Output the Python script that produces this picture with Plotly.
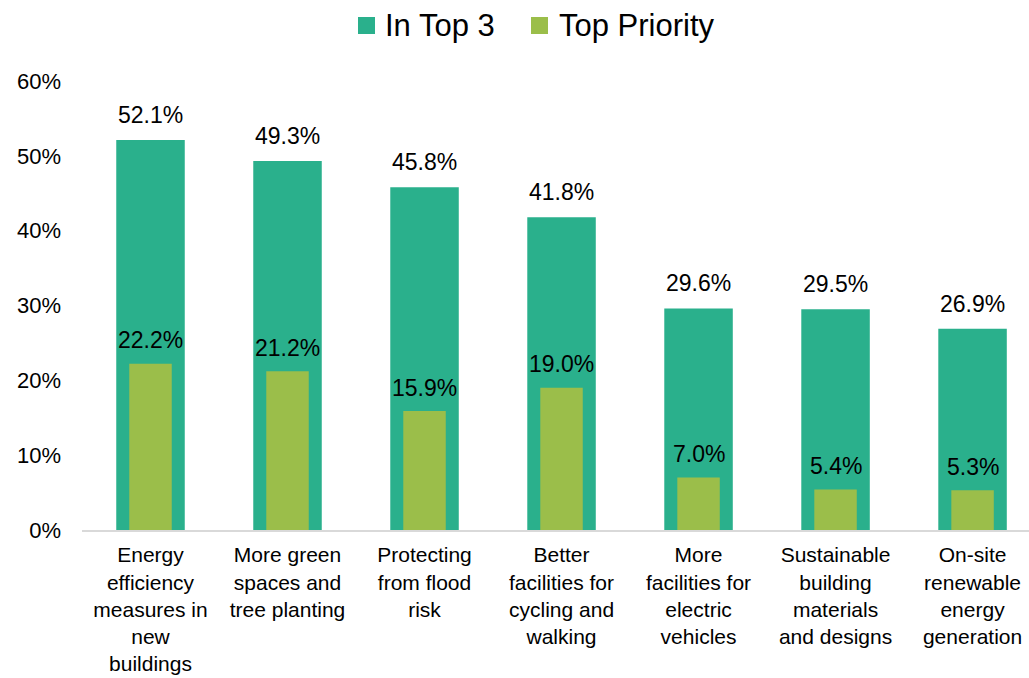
import plotly.graph_objects as go

categories = [
    "Energy<br>efficiency<br>measures in<br>new<br>buildings",
    "More green<br>spaces and<br>tree planting",
    "Protecting<br>from flood<br>risk",
    "Better<br>facilities for<br>cycling and<br>walking",
    "More<br>facilities for<br>electric<br>vehicles",
    "Sustainable<br>building<br>materials<br>and designs",
    "On-site<br>renewable<br>energy<br>generation",
]
in_top3 = [52.1, 49.3, 45.8, 41.8, 29.6, 29.5, 26.9]
top_priority = [22.2, 21.2, 15.9, 19.0, 7.0, 5.4, 5.3]
y_ticks = [0, 10, 20, 30, 40, 50, 60]
series_names = ["In Top 3", "Top Priority"]

TEAL = "rgb(42,176,140)"
LIME = "rgb(155,190,74)"
FONT = "Liberation Sans, Arial, sans-serif"

# plot-area geometry in pixels
W, H = 1029, 678
L, R, T, B = 82, 0, 81, 148
PW, PH = W - L - R, H - T - B


def px_x(x):
    return (x - L) / PW


def px_y(y):
    return 1 + (T - y) / PH


fig = go.Figure()
fig.add_trace(go.Bar(x=categories, y=in_top3, width=0.5, marker_color=TEAL,
                     marker_line_width=0, name=series_names[0], showlegend=False,
                     hoverinfo="skip"))
fig.add_trace(go.Bar(x=categories, y=top_priority, width=0.31, marker_color=LIME,
                     marker_line_width=0, name=series_names[1], showlegend=False,
                     hoverinfo="skip"))

# value labels above each bar
for cat, v in zip(categories, in_top3):
    fig.add_annotation(x=cat, y=v, text=f"{v:.1f}%", showarrow=False,
                       yanchor="middle", yshift=25, font=dict(size=23, color="black"))
for cat, v in zip(categories, top_priority):
    fig.add_annotation(x=cat, y=v, text=f"{v:.1f}%", showarrow=False,
                       yanchor="middle", yshift=23.5, font=dict(size=23, color="black"))

# legend: colour swatches and series names across the top
legend_items = [(series_names[0], TEAL, 358, 375, 383), (series_names[1], LIME, 531, 548, 557)]
for name, color, sx0, sx1, tx in legend_items:
    fig.add_shape(type="rect", xref="paper", yref="paper",
                  x0=px_x(sx0), x1=px_x(sx1), y0=px_y(34), y1=px_y(17),
                  fillcolor=color, line_width=0)
    fig.add_annotation(xref="paper", yref="paper", x=px_x(tx), y=px_y(26),
                       xanchor="left", yanchor="middle", text=name, showarrow=False,
                       font=dict(size=31, color="black"))

fig.update_layout(
    width=W, height=H,
    margin=dict(l=L, r=R, t=T, b=B, autoexpand=False),
    barmode="overlay",
    showlegend=False,
    plot_bgcolor="white", paper_bgcolor="white",
    font=dict(family=FONT, size=22, color="black"),
    xaxis=dict(range=[-0.5, 6.412], showgrid=False, showline=True, linecolor="#d9d9d9",
               linewidth=2, ticks="", tickfont=dict(size=21), tickangle=0,
               ticklabelstandoff=5, automargin=False, fixedrange=True),
    yaxis=dict(range=[0, 60], tickmode="array", tickvals=y_ticks,
               ticktext=[f"{v}%" for v in y_ticks], showgrid=False,
               showline=False, zeroline=False, ticks="", tickfont=dict(size=22),
               ticklabelstandoff=20, automargin=False, fixedrange=True),
)

fig.write_html("out.html")
